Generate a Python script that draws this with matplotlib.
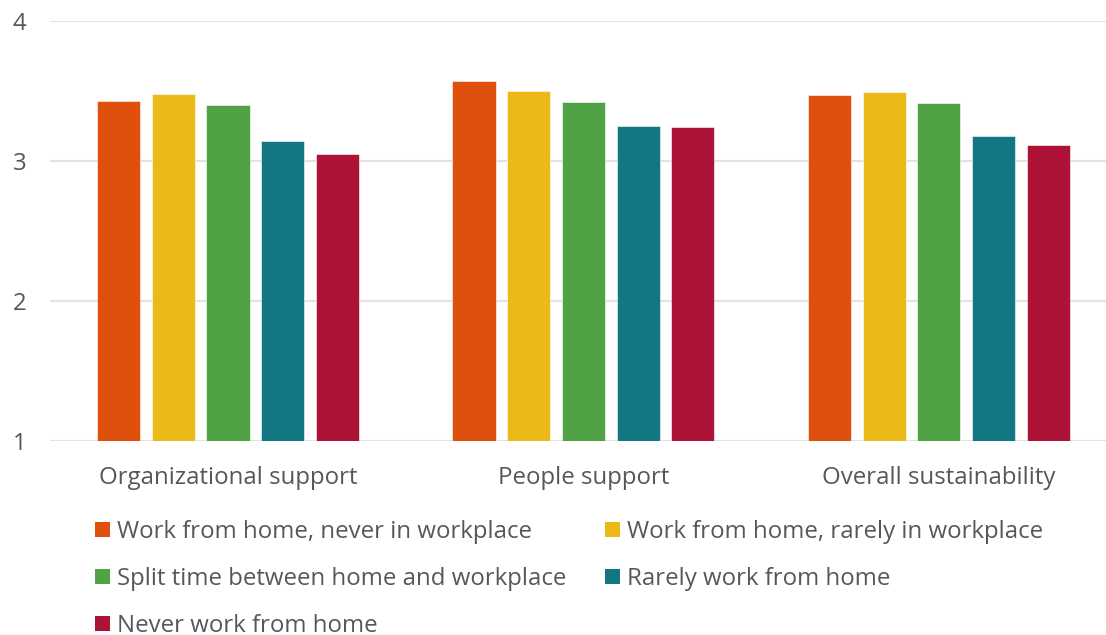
import matplotlib
matplotlib.use("Agg")
import matplotlib.pyplot as plt
import numpy as np
from matplotlib.patches import Patch

plt.rcParams['font.family'] = ['Open Sans', 'DejaVu Sans']

categories = ["Organizational support", "People support", "Overall sustainability"]
series_names = [
    "Work from home, never in workplace",
    "Work from home, rarely in workplace",
    "Split time between home and workplace",
    "Rarely work from home",
    "Never work from home",
]
never_in_workplace = [3.43, 3.57, 3.47]
rarely_in_workplace = [3.48, 3.50, 3.49]
split_time = [3.40, 3.42, 3.41]
rarely_from_home = [3.14, 3.25, 3.18]
never_from_home = [3.05, 3.24, 3.11]
series_values = [never_in_workplace, rarely_in_workplace, split_time,
                 rarely_from_home, never_from_home]
colors = ["#DE500C", "#EBBA18", "#50A345", "#127782", "#AD1237"]
yticks = [1, 2, 3, 4]

W, H = 1106, 635
text_color = "#54585c"
fs = 17.3
fig = plt.figure(figsize=(W / 100, H / 100), dpi=100)
ax = fig.add_axes([50 / W, 1 - 441 / H, (1106 - 50) / W, (441 - 20.7) / H])

x = np.arange(len(categories))
step = 0.154
width = 0.121
for i, (vals, c) in enumerate(zip(series_values, colors)):
    ax.bar(x + (i - 2) * step, np.array(vals) - 1, bottom=1, width=width,
           color=c, edgecolor="white", linewidth=0.4, zorder=3)

ax.set_xlim(-0.5007, 2.4698)
ax.set_ylim(1, 4)
ax.set_yticks(yticks)
ax.set_yticklabels([str(t) for t in yticks])
ax.set_xticks(x)
ax.set_xticklabels(categories)
ax.grid(axis="y", color="#e3e3e3", linewidth=1.5, zorder=0)
for s in ax.spines.values():
    s.set_visible(False)
ax.tick_params(axis="both", length=0, colors=text_color, labelsize=fs)
ax.tick_params(axis="x", pad=18)
ax.tick_params(axis="y", pad=17)

order = [0, 2, 4, 1, 3]
handles = [Patch(facecolor=colors[i], edgecolor="none") for i in order]
labels = [series_names[i] for i in order]
leg = fig.legend(handles, labels, ncol=2, loc="upper left",
                 bbox_to_anchor=(95 / W, 1 - 520 / H), frameon=False,
                 fontsize=fs, handlelength=0.62, handleheight=0.62,
                 handletextpad=0.3, labelspacing=0.96, columnspacing=1.6,
                 borderpad=0, borderaxespad=0)
for t in leg.get_texts():
    t.set_color(text_color)

fig.savefig("out.png", dpi=100)
